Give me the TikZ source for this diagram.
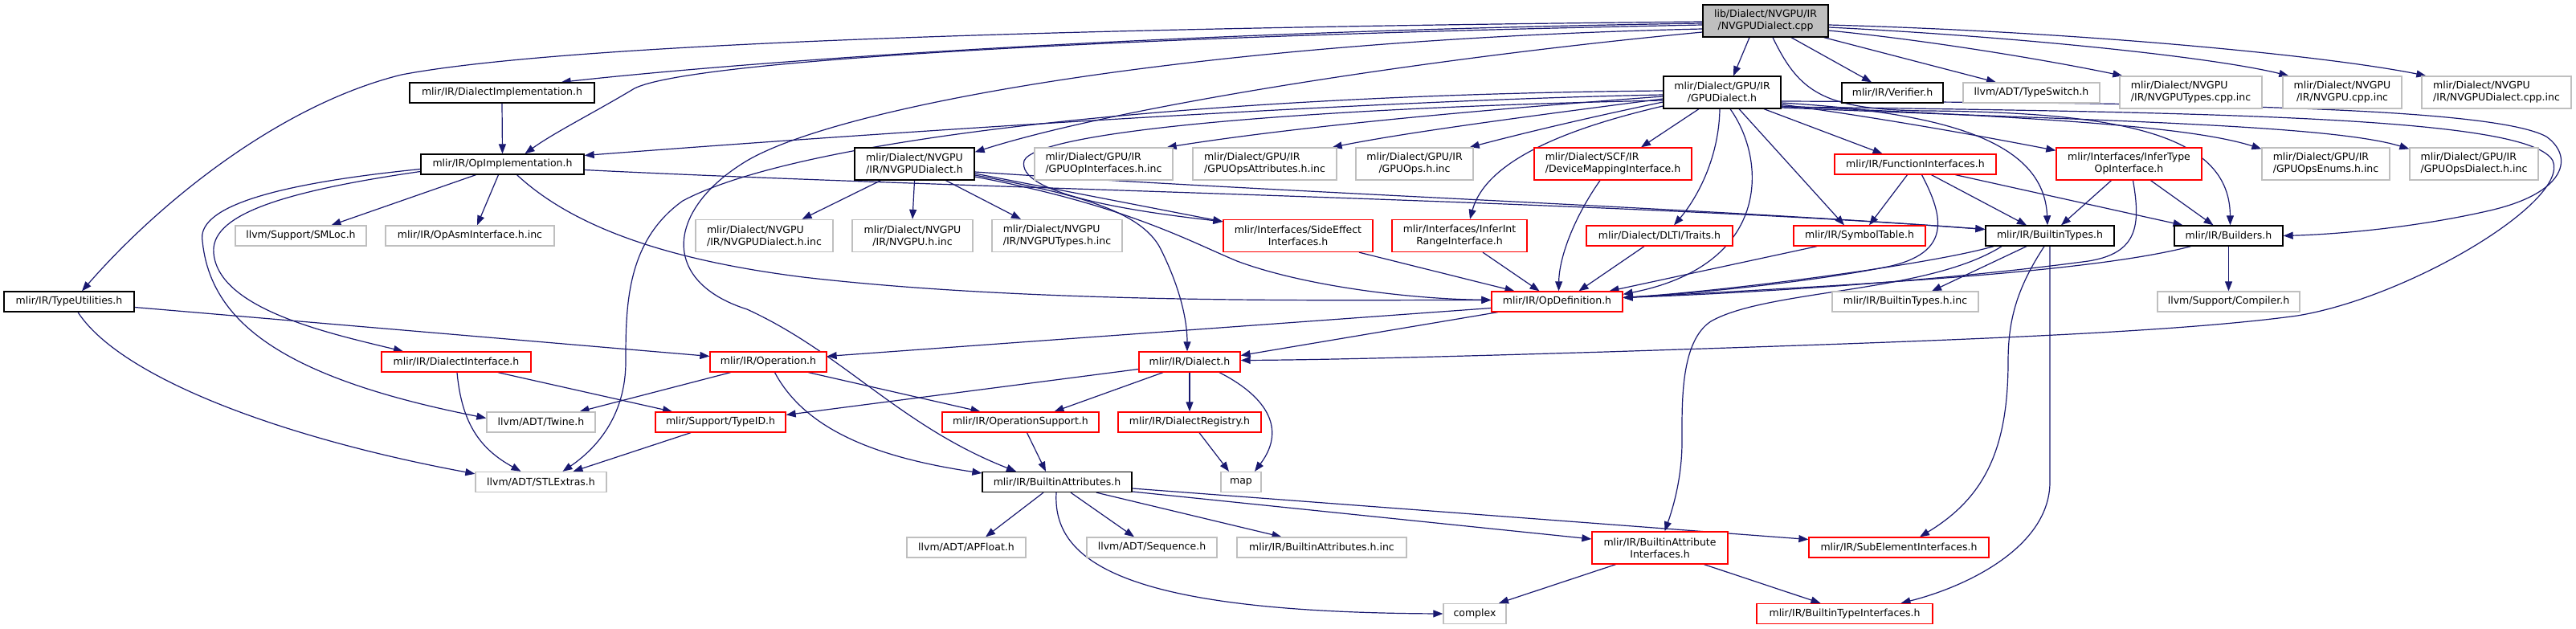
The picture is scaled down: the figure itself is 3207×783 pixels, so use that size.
\documentclass[tikz,border=0pt]{standalone}
\usepackage{fontspec}
\setmainfont{DejaVu Sans}
\usetikzlibrary{arrows.meta}
\definecolor{edgec}{HTML}{191970}
\definecolor{grayb}{HTML}{BFBFBF}
\definecolor{redb}{HTML}{FF0000}
\pgfdeclarelayer{bg}
\pgfsetlayers{bg,main}
\begin{document}
\begin{tikzpicture}[x=1pt,y=-1pt,
  box/.style={rectangle, draw, line width=1.3pt, inner sep=0pt, minimum height=25pt, font=\fontsize{12.5}{15}\selectfont, align=center, fill=white, text=black},
  two/.style={minimum height=40pt},
  blk/.style={box, draw=black},
  gry/.style={box, draw=grayb},
  rd/.style={box, draw=redb},
  edge/.style={draw=edgec, line width=1.2pt, -{Triangle[length=12pt,width=9pt]}}]
\useasboundingbox (0,0) rectangle (3207,783);
% level 0
\node[blk, two, fill=grayb, minimum width=156pt] (root) at (2198,26) {lib/Dialect/NVGPU/IR\\/NVGPUDialect.cpp};
% level 1
\node[blk, minimum width=230pt] (dimpl) at (625,115.5) {mlir/IR/DialectImplementation.h};
\node[blk, two, minimum width=146pt] (gpud) at (2144,115) {mlir/Dialect/GPU/IR\\/GPUDialect.h};
\node[blk, minimum width=126pt] (verif) at (2356,115.5) {mlir/IR/Verifier.h};
\node[gry, minimum width=170pt] (tswitch) at (2529,115.5) {llvm/ADT/TypeSwitch.h};
\node[gry, two, align=left, minimum width=177pt] (nvtcpp) at (2727.5,115) {mlir/Dialect/NVGPU\\/IR/NVGPUTypes.cpp.inc};
\node[gry, two, minimum width=148pt] (nvcpp) at (2916,115) {mlir/Dialect/NVGPU\\/IR/NVGPU.cpp.inc};
\node[gry, two, align=left, minimum width=186pt] (nvdcpp) at (3108,115) {mlir/Dialect/NVGPU\\/IR/NVGPUDialect.cpp.inc};
% level 2
\node[blk, minimum width=203pt] (opimpl) at (625.5,204.5) {mlir/IR/OpImplementation.h};
\node[blk, two, minimum width=149pt] (nvdh) at (1138.5,204) {mlir/Dialect/NVGPU\\/IR/NVGPUDialect.h};
\node[gry, two, align=left, minimum width=172pt] (gpuopif) at (1374,204) {mlir/Dialect/GPU/IR\\/GPUOpInterfaces.h.inc};
\node[gry, two, align=left, minimum width=179pt] (gpuattr) at (1574.5,204) {mlir/Dialect/GPU/IR\\/GPUOpsAttributes.h.inc};
\node[gry, two, minimum width=146pt] (gpuops) at (1761,204) {mlir/Dialect/GPU/IR\\/GPUOps.h.inc};
\node[rd, two, align=left, minimum width=196pt] (devmap) at (2008,204) {mlir/Dialect/SCF/IR\\/DeviceMappingInterface.h};
\node[rd, minimum width=201pt] (funcif) at (2384.5,204.5) {mlir/IR/FunctionInterfaces.h};
\node[rd, two, minimum width=181pt] (infertype) at (2650.5,204) {mlir/Interfaces/InferType\\OpInterface.h};
\node[gry, two, align=left, minimum width=159pt] (gpuenums) at (2895.5,204) {mlir/Dialect/GPU/IR\\/GPUOpsEnums.h.inc};
\node[gry, two, align=left, minimum width=160pt] (gpudial) at (3080,204) {mlir/Dialect/GPU/IR\\/GPUOpsDialect.h.inc};
% level 3
\node[gry, minimum width=163pt] (smloc) at (374.5,293.5) {llvm/Support/SMLoc.h};
\node[gry, minimum width=210pt] (opasm) at (585,293.5) {mlir/IR/OpAsmInterface.h.inc};
\node[gry, two, align=left, minimum width=171pt] (nvdinc) at (951.5,293.5) {mlir/Dialect/NVGPU\\/IR/NVGPUDialect.h.inc};
\node[gry, two, minimum width=150pt] (nvinc) at (1136,293.5) {mlir/Dialect/NVGPU\\/IR/NVGPU.h.inc};
\node[gry, two, align=left, minimum width=162pt] (nvtinc) at (1316,293.5) {mlir/Dialect/NVGPU\\/IR/NVGPUTypes.h.inc};
\node[rd, two, minimum width=186pt] (sideeff) at (1616,293.5) {mlir/Interfaces/SideEffect\\Interfaces.h};
\node[rd, two, minimum width=168pt] (inferint) at (1817,293.5) {mlir/Interfaces/InferInt\\RangeInterface.h};
\node[rd, minimum width=182pt] (dlti) at (2066,293.5) {mlir/Dialect/DLTI/Traits.h};
\node[rd, minimum width=164pt] (symtab) at (2315,293.5) {mlir/IR/SymbolTable.h};
\node[blk, minimum width=160pt] (btypes) at (2552,293.5) {mlir/IR/BuiltinTypes.h};
\node[blk, minimum width=135pt] (builders) at (2774.5,293.5) {mlir/IR/Builders.h};
% level 4
\node[blk, minimum width=162pt] (typeutil) at (86,375.5) {mlir/IR/TypeUtilities.h};
\node[rd, minimum width=163pt] (opdef) at (1938.5,375.5) {mlir/IR/OpDefinition.h};
\node[gry, minimum width=182pt] (btinc) at (2372,375.5) {mlir/IR/BuiltinTypes.h.inc};
\node[gry, minimum width=177pt] (compiler) at (2774.5,375.5) {llvm/Support/Compiler.h};
% level 5
\node[rd, minimum width=186pt] (dialif) at (568,450.5) {mlir/IR/DialectInterface.h};
\node[rd, minimum width=145pt] (operation) at (956.5,450.5) {mlir/IR/Operation.h};
\node[rd, minimum width=126pt] (dialect) at (1481,450.5) {mlir/IR/Dialect.h};
% level 6
\node[gry, minimum width=135pt] (twine) at (673.5,525.5) {llvm/ADT/Twine.h};
\node[rd, minimum width=162pt] (typeid) at (897,525.5) {mlir/Support/TypeID.h};
\node[rd, minimum width=195pt] (opsupp) at (1270.5,525.5) {mlir/IR/OperationSupport.h};
\node[rd, minimum width=178pt] (dreg) at (1481,525.5) {mlir/IR/DialectRegistry.h};
% level 7
\node[gry, minimum width=163pt] (stlext) at (673.5,600) {llvm/ADT/STLExtras.h};
\node[blk, minimum width=186pt] (battr) at (1316,600) {mlir/IR/BuiltinAttributes.h};
\node[gry, minimum width=50pt] (map) at (1545,600) {map};
% level 8
\node[gry, minimum width=148pt] (apfloat) at (1203,681.5) {llvm/ADT/APFloat.h};
\node[gry, minimum width=162pt] (seq) at (1434,681.5) {llvm/ADT/Sequence.h};
\node[gry, minimum width=211pt] (battrinc) at (1645.5,681.5) {mlir/IR/BuiltinAttributes.h.inc};
\node[rd, two, minimum width=169pt] (baif) at (2066.5,682) {mlir/IR/BuiltinAttribute\\Interfaces.h};
\node[rd, minimum width=224pt] (subel) at (2364,681.5) {mlir/IR/SubElementInterfaces.h};
% level 9
\node[gry, minimum width=78pt] (complex) at (1836,764) {complex};
\node[rd, minimum width=219pt] (btif) at (2296.5,764) {mlir/IR/BuiltinTypeInterfaces.h};

\begin{pgfonlayer}{bg}
\fill[white] (0,0) rectangle (3207,783);
% root
\draw[edge] ([xshift=-20pt]root.south) -- ([xshift=14pt]gpud.north);
\draw[edge] ([xshift=32pt]root.south) -- ([xshift=-26pt]verif.north);
\draw[edge] ([xshift=-6pt]root.south east) -- ([xshift=-44pt]tswitch.north);
\draw[edge] ([yshift=-12pt]root.east) .. controls (2400,50) and (2550,75) .. ([xshift=4pt]nvtcpp.north west);
\draw[edge] ([yshift=-8pt]root.east) .. controls (2500,45) and (2750,70) .. ([xshift=8pt]nvcpp.north west);
\draw[edge] ([yshift=-5pt]root.east) .. controls (2600,40) and (2900,70) .. ([xshift=6pt]nvdcpp.north west);
\draw[edge] ([yshift=-1pt]root.west) .. controls (1300,35) and (700,55) .. (500,93) .. controls (350,130) and (200,250) .. ([xshift=16pt]typeutil.north);
\draw[edge] ([yshift=-3pt]root.west) .. controls (1400,40) and (900,80) .. ([xshift=-42pt]dimpl.north east);
\draw[edge] ([yshift=-5pt]root.west) .. controls (1400,45) and (860,75) .. (790,110) .. controls (740,140) and (690,165) .. ([xshift=28pt]opimpl.north);
\draw[edge] ([yshift=-10pt]root.west) .. controls (1500,50) and (1050,130) .. (930,200) .. controls (830,260) and (820,350) .. (930,385) .. controls (1050,440) and (1120,530) .. ([xshift=-51pt]battr.north);
\draw[edge] ([yshift=-14pt]root.west) .. controls (1800,70) and (1400,130) .. ([yshift=-6pt]nvdh.north east);
\draw[edge] ([xshift=9pt]root.south) .. controls (2240,115) and (2270,137) .. (2400,138) .. controls (2650,140) and (2776,170) .. ([xshift=2pt]builders.north);
% GPUDialect
\draw[edge] ([yshift=-3pt]gpud.west) .. controls (1700,125) and (1100,165) .. ([yshift=11pt]opimpl.east);
\draw[edge] ([yshift=2pt]gpud.west) .. controls (1500,118) and (1000,170) .. (850,250) .. controls (780,300) and (779,380) .. (779,450) .. controls (779,520) and (740,560) .. ([xshift=27pt]stlext.north);
\draw[edge] ([yshift=-5pt]gpud.west) .. controls (1800,140) and (1600,160) .. ([xshift=-8pt]gpuopif.north east);
\draw[edge] ([yshift=-8pt]gpud.west) .. controls (1900,145) and (1750,165) .. ([xshift=-6pt]gpuattr.north east);
\draw[edge] ([yshift=-12pt]gpud.west) .. controls (1960,150) and (1880,170) .. ([xshift=-5pt]gpuops.north east);
\draw[edge] ([xshift=-29pt]gpud.south) -- ([xshift=35pt]devmap.north);
\draw[edge] ([yshift=-17pt]gpud.west) .. controls (1950,160) and (1850,200) .. ([xshift=13pt]inferint.north);
\draw[edge] ([xshift=-3pt]gpud.south) .. controls (2140,200) and (2110,250) .. ([xshift=18pt]dlti.north);
\draw[edge] ([xshift=10pt]gpud.south) .. controls (2200,200) and (2205,330) .. ([yshift=-4pt]opdef.north east);
\draw[edge] ([xshift=21pt]gpud.south) -- ([xshift=-19pt]symtab.north);
\draw[edge] ([xshift=52pt]gpud.south) -- ([xshift=-41pt]funcif.north);
\draw[edge] ([yshift=-10pt]gpud.west) .. controls (1600,135) and (1290,165) .. (1275,200) .. controls (1265,240) and (1400,262) .. ([yshift=-3pt]sideeff.north west);
\draw[edge] ([yshift=-15pt]gpud.east) .. controls (2350,148) and (2480,172) .. ([yshift=-4pt]infertype.north west);
\draw[edge] ([yshift=-17pt]gpud.east) .. controls (2500,145) and (2720,155) .. ([yshift=-2pt]gpuenums.north west);
\draw[edge] ([yshift=-19pt]gpud.east) .. controls (2600,150) and (2900,155) .. ([yshift=-2pt]gpudial.north west);
\draw[edge] ([yshift=-13pt]gpud.east) .. controls (2420,140) and (2545,175) .. ([xshift=-3pt]btypes.north);
\draw[edge] ([yshift=-11pt]gpud.east) .. controls (2700,128) and (3100,132) .. (3170,170) .. controls (3205,195) and (3195,240) .. (3100,262) .. controls (3000,285) and (2900,292) .. (builders.east);
\draw[edge] ([yshift=-18pt]gpud.east) .. controls (2800,140) and (3150,148) .. (3178,200) .. controls (3200,250) and (3000,370) .. (2860,393) .. controls (2700,415) and (2400,425) .. (2000,438) .. controls (1800,444) and (1650,448) .. ([yshift=2pt]dialect.east);
% NVGPUDialect.h
\draw[edge] ([xshift=-42pt]nvdh.south) -- ([xshift=47pt]nvdinc.north);
\draw[edge] (nvdh.south) -- (nvinc.north);
\draw[edge] ([xshift=39pt]nvdh.south) -- ([xshift=-45pt]nvtinc.north);
\draw[edge] ([yshift=-12pt]nvdh.east) -- ([yshift=-3pt]sideeff.north west);
\draw[edge] ([yshift=-14pt]nvdh.east) .. controls (1330,240) and (1420,260) .. (1445,310) .. controls (1470,360) and (1478,400) .. ([xshift=-3pt]dialect.north);
\draw[edge] ([yshift=-16pt]nvdh.east) .. controls (1400,255) and (1480,300) .. (1540,325) .. controls (1620,355) and (1750,372) .. ([yshift=2pt]opdef.west);
\draw[edge] ([yshift=-10pt]nvdh.east) .. controls (1600,240) and (2100,258) .. ([yshift=8pt]btypes.west);
% OpImplementation
\draw[edge] (dimpl.south) -- (opimpl.north);
\draw[edge] ([xshift=-33pt]opimpl.south) -- ([xshift=38pt]smloc.north);
\draw[edge] ([xshift=-5pt]opimpl.south) -- ([xshift=9pt]opasm.north);
\draw[edge] ([xshift=18pt]opimpl.south) .. controls (700,270) and (800,320) .. (1000,345) .. controls (1300,380) and (1700,373) .. ([yshift=2pt]opdef.west);
\draw[edge] ([yshift=-7pt]opimpl.east) .. controls (1200,235) and (2000,250) .. ([yshift=8pt]btypes.west);
\draw[edge] ([yshift=-6pt]opimpl.west) .. controls (330,230) and (245,260) .. (252,300) .. controls (262,400) and (350,470) .. ([yshift=5pt]twine.west);
\draw[edge] ([yshift=-9pt]opimpl.west) .. controls (340,240) and (262,270) .. (266,315) .. controls (272,385) and (410,415) .. ([xshift=-66pt]dialif.north);
% TypeUtilities
\draw[edge] ([yshift=-7pt]typeutil.east) -- ([yshift=7pt]operation.west);
\draw[edge] ([xshift=11pt]typeutil.south) .. controls (150,470) and (350,545) .. ([yshift=-3pt]stlext.north west);
% DialectInterface
\draw[edge] ([xshift=52pt]dialif.south) -- ([xshift=-60pt]typeid.north);
\draw[edge] ([xshift=1pt]dialif.south) .. controls (575,530) and (600,560) .. ([xshift=-25pt]stlext.north);
% Operation
\draw[edge] ([xshift=-47pt]operation.south) -- ([xshift=48pt]twine.north);
\draw[edge] ([xshift=50pt]operation.south) -- ([xshift=-50pt]opsupp.north);
\draw[edge] ([xshift=8pt]operation.south) .. controls (1000,530) and (1080,568) .. ([yshift=11pt]battr.west);
% OpDefinition
\draw[edge] ([yshift=-8pt]opdef.west) -- ([yshift=7pt]operation.east);
\draw[edge] ([xshift=-74pt]opdef.south) -- ([yshift=8pt]dialect.east);
% Dialect
\draw[edge] ([yshift=-9pt]dialect.west) -- ([yshift=9pt]typeid.east);
\draw[edge] ([xshift=-33pt]dialect.south) -- ([xshift=42pt]opsupp.north);
\draw[edge] (dialect.south) -- (dreg.north);
\draw[edge] ([xshift=37pt]dialect.south) .. controls (1570,490) and (1605,530) .. ([xshift=17pt]map.north);
\draw[edge] ([xshift=12pt]dreg.south) -- ([xshift=-15pt]map.north);
\draw[edge] ([xshift=8pt]opsupp.south) -- ([xshift=-14pt]battr.north);
\draw[edge] ([xshift=-37pt]typeid.south) -- ([xshift=40pt]stlext.north);
% BuiltinAttributes
\draw[edge] ([xshift=-17pt]battr.south) -- ([xshift=24pt]apfloat.north);
\draw[edge] ([xshift=17pt]battr.south) -- ([xshift=-22pt]seq.north);
\draw[edge] ([xshift=49pt]battr.south) -- ([xshift=-50pt]battrinc.north);
\draw[edge] ([xshift=-1pt]battr.south) .. controls (1310,700) and (1400,762) .. (complex.west);
\draw[edge] ([yshift=-12pt]battr.east) -- ([yshift=11pt]baif.west);
\draw[edge] ([yshift=-8pt]battr.east) -- ([yshift=10pt]subel.west);
% BuiltinTypes
\draw[edge] ([xshift=-29pt]btypes.south) -- ([xshift=33pt]btinc.north);
\draw[edge] ([xshift=-70pt]btypes.south) .. controls (2400,330) and (2150,362) .. ([yshift=5pt]opdef.east);
\draw[edge] ([xshift=-60pt]btypes.south) .. controls (2400,365) and (2200,360) .. (2130,400) .. controls (2092,425) and (2094,500) .. (2094,550) .. controls (2094,600) and (2080,640) .. ([xshift=6pt]baif.north);
\draw[edge] ([xshift=-7pt]btypes.south) .. controls (2510,360) and (2500,400) .. (2500,450) .. controls (2500,560) and (2470,620) .. ([xshift=26pt]subel.north);
\draw[edge] (btypes.south) -- (2552,600) .. controls (2552,680) and (2450,730) .. ([xshift=70pt]btif.north);
% Builders
\draw[edge] (builders.south) -- (compiler.north);
\draw[edge] ([xshift=-47pt]builders.south) .. controls (2600,340) and (2300,355) .. ([yshift=5pt]opdef.east);
% FunctionInterfaces
\draw[edge] ([xshift=-10pt]funcif.south) -- ([xshift=12pt]symtab.north);
\draw[edge] ([xshift=20pt]funcif.south) -- ([xshift=-29pt]btypes.north);
\draw[edge] ([xshift=50pt]funcif.south) -- ([xshift=-57pt]builders.north);
\draw[edge] ([xshift=8pt]funcif.south) .. controls (2420,270) and (2430,315) .. (2350,332) .. controls (2250,352) and (2100,366) .. ([yshift=5pt]opdef.east);
% InferTypeOpInterface
\draw[edge] ([xshift=-22pt]infertype.south) -- ([xshift=14pt]btypes.north);
\draw[edge] ([xshift=27pt]infertype.south) -- ([xshift=-19pt]builders.north);
\draw[edge] ([xshift=5pt]infertype.south) .. controls (2665,280) and (2662,315) .. (2600,325) .. controls (2400,352) and (2150,366) .. ([yshift=5pt]opdef.east);
% into OpDefinition from level 3
\draw[edge] ([xshift=-53pt]symtab.south) -- ([xshift=65pt]opdef.north);
\draw[edge] ([xshift=-19pt]dlti.south) -- ([xshift=27pt]opdef.north);
\draw[edge] ([xshift=-16pt]devmap.south) .. controls (1960,270) and (1941,320) .. ([xshift=2pt]opdef.north);
\draw[edge] ([xshift=29pt]inferint.south) -- ([xshift=-22pt]opdef.north);
\draw[edge] ([xshift=76pt]sideeff.south) -- ([xshift=-53pt]opdef.north);
% BuiltinAttributeInterfaces
\draw[edge] ([xshift=-55pt]baif.south) -- ([xshift=30pt]complex.north);
\draw[edge] ([xshift=55pt]baif.south) -- ([xshift=-30pt]btif.north);
\end{pgfonlayer}
\end{tikzpicture}
\end{document}
